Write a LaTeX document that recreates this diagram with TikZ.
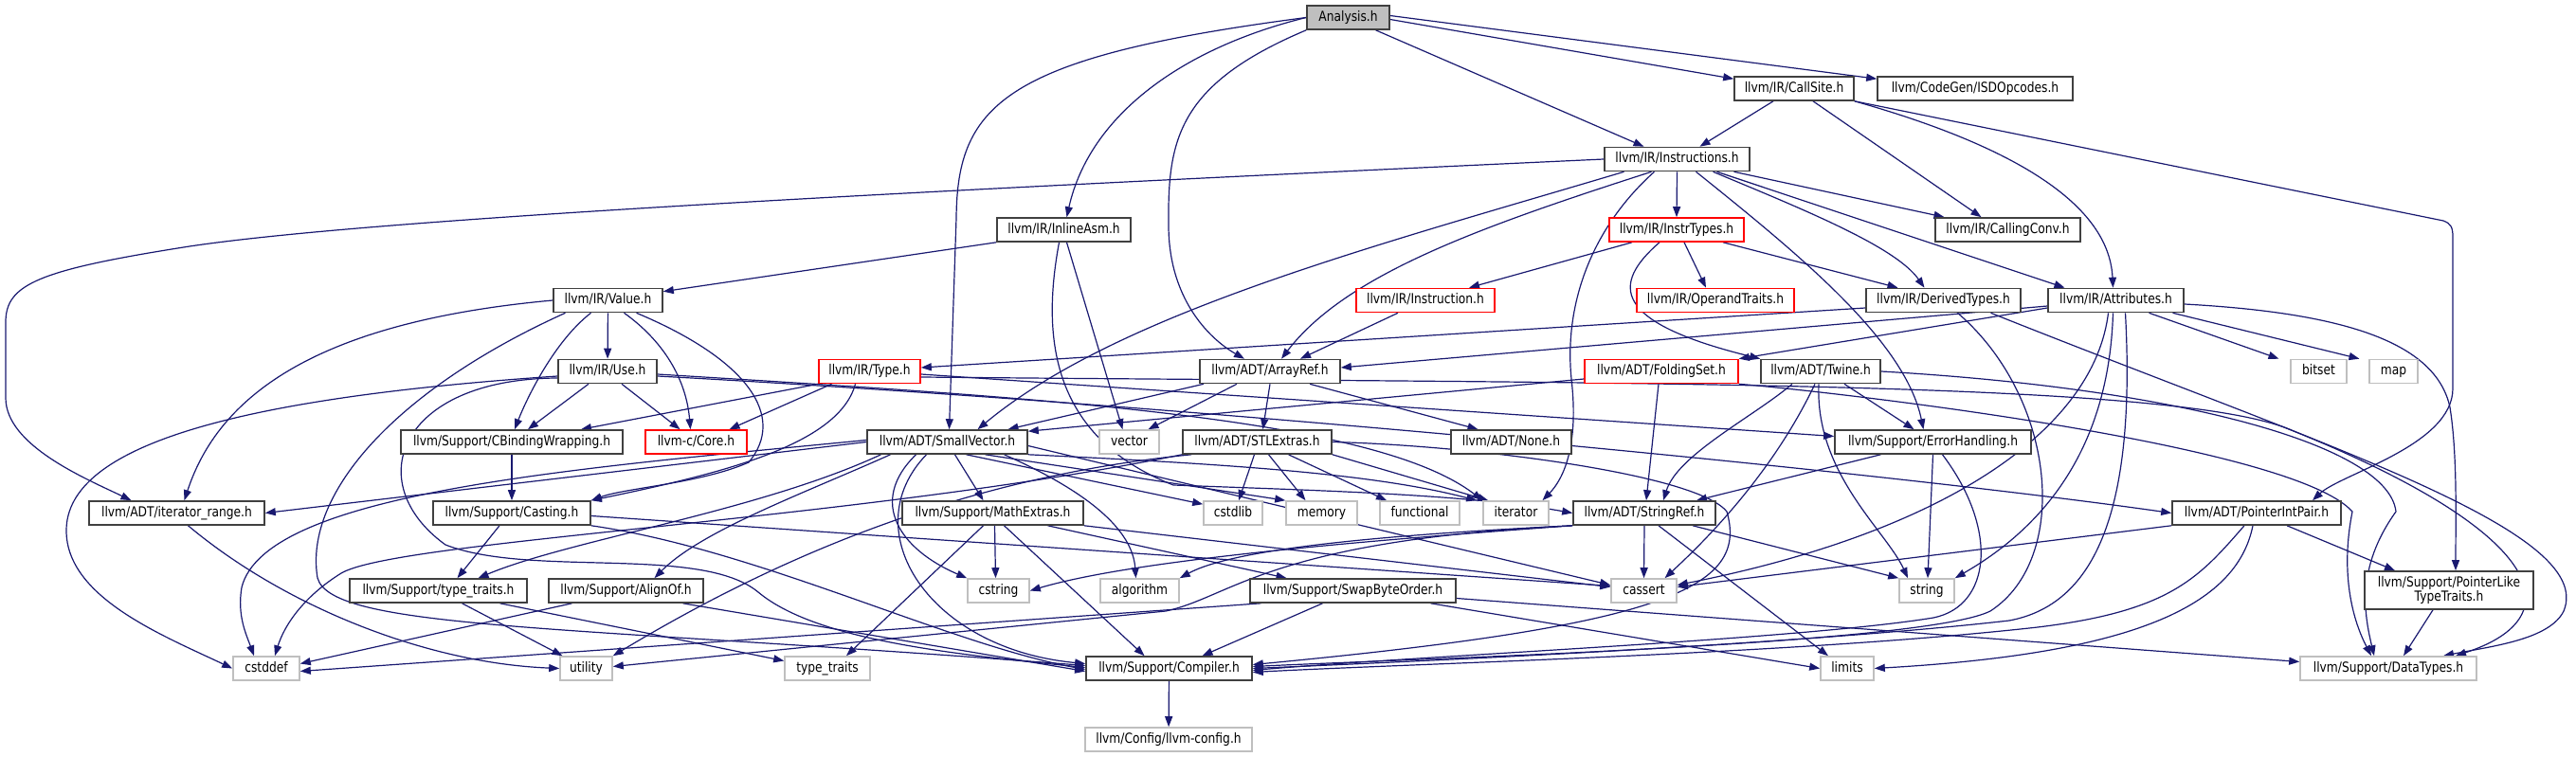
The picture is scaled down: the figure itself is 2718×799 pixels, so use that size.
\documentclass[tikz,border=0pt]{standalone}
\usepackage{fontspec}
\setmainfont{DejaVu Sans}[FakeStretch=0.84]
\usetikzlibrary{arrows.meta}
\definecolor{edgec}{HTML}{191970}
\definecolor{boxc}{HTML}{404040}
\definecolor{redc}{HTML}{FF0000}
\definecolor{greyc}{HTML}{BFBFBF}
\pgfdeclarelayer{edges}
\pgfsetlayers{edges,main}
\begin{document}
\begin{tikzpicture}[x=1pt,y=-1pt,
  font=\fontsize{14.6pt}{15pt}\selectfont,
  boxbase/.style={draw=boxc, line width=1.6pt, fill=white, inner sep=0pt, align=center},
  box/.style={boxbase, minimum height=25pt, text height=11pt, text depth=3.3pt},
  rbox/.style={box, draw=redc},
  gbox/.style={box, draw=greyc},
  e/.style={draw=edgec, line width=1.2pt, -{Triangle[length=11pt,width=8pt]}}]
\useasboundingbox (0,0) rectangle (2718,799);
% nodes
\node[box, fill=greyc, minimum width=87pt] (analysis) at (1422.5,18.5) {Analysis.h};
\node[box, minimum width=126pt] (callsite) at (1893,93.5) {llvm/IR/CallSite.h};
\node[box, minimum width=206pt] (isd) at (2084,93.5) {llvm/CodeGen/ISDOpcodes.h};
\node[box, minimum width=153pt] (instructions) at (1769.5,168) {llvm/IR/Instructions.h};
\node[box, minimum width=141pt] (inlineasm) at (1122.5,242.5) {llvm/IR/InlineAsm.h};
\node[rbox, minimum width=142pt] (instrtypes) at (1769,242.5) {llvm/IR/InstrTypes.h};
\node[box, minimum width=153pt] (callingconv) at (2118.5,242.5) {llvm/IR/CallingConv.h};
\node[box, minimum width=115pt] (value) at (641.5,317) {llvm/IR/Value.h};
\node[rbox, minimum width=146pt] (instruction) at (1504,317) {llvm/IR/Instruction.h};
\node[rbox, minimum width=166pt] (operandtraits) at (1810,317) {llvm/IR/OperandTraits.h};
\node[box, minimum width=163pt] (derivedtypes) at (2050.5,317) {llvm/IR/DerivedTypes.h};
\node[box, minimum width=143pt] (attributes) at (2232.5,317) {llvm/IR/Attributes.h};
\node[box, minimum width=104pt] (use) at (641,392) {llvm/IR/Use.h};
\node[rbox, minimum width=107pt] (type) at (917.5,392) {llvm/IR/Type.h};
\node[box, minimum width=148pt] (arrayref) at (1340,392) {llvm/ADT/ArrayRef.h};
\node[rbox, minimum width=162pt] (foldingset) at (1753,392) {llvm/ADT/FoldingSet.h};
\node[box, minimum width=126pt] (twine) at (1921,392) {llvm/ADT/Twine.h};
\node[gbox, minimum width=59pt] (bitset) at (2446.5,392) {bitset};
\node[gbox, minimum width=51pt] (map) at (2525.5,392) {map};
\node[box, minimum width=234pt] (cbinding) at (540,466.5) {llvm/Support/CBindingWrapping.h};
\node[rbox, minimum width=107pt] (core) at (734.5,466.5) {llvm-c/Core.h};
\node[box, minimum width=169pt] (smallvector) at (999.5,466.5) {llvm/ADT/SmallVector.h};
\node[gbox, minimum width=63pt] (vector) at (1191.5,466.5) {vector};
\node[box, minimum width=157pt] (stlextras) at (1326.5,466.5) {llvm/ADT/STLExtras.h};
\node[box, minimum width=127pt] (none) at (1594.5,466.5) {llvm/ADT/None.h};
\node[box, minimum width=207pt] (errorhandling) at (2039.5,466.5) {llvm/Support/ErrorHandling.h};
\node[box, minimum width=185pt] (iterrange) at (186.5,541.5) {llvm/ADT/iterator\_range.h};
\node[box, minimum width=166pt] (casting) at (540,541.5) {llvm/Support/Casting.h};
\node[box, minimum width=191pt] (mathextras) at (1047.5,541.5) {llvm/Support/MathExtras.h};
\node[gbox, minimum width=62pt] (cstdlib) at (1301,541.5) {cstdlib};
\node[gbox, minimum width=75pt] (memory) at (1394.5,541.5) {memory};
\node[gbox, minimum width=84pt] (functional) at (1498,541.5) {functional};
\node[gbox, minimum width=69pt] (iterator) at (1599.5,541.5) {iterator};
\node[box, minimum width=150pt] (stringref) at (1735,541.5) {llvm/ADT/StringRef.h};
\node[box, minimum width=178pt] (pointerintpair) at (2381,541.5) {llvm/ADT/PointerIntPair.h};
\node[box, minimum width=187pt] (typetraitsllvm) at (462.5,623.5) {llvm/Support/type\_traits.h};
\node[box, minimum width=163pt] (alignof) at (660.5,623.5) {llvm/Support/AlignOf.h};
\node[gbox, minimum width=65pt] (cstring) at (1053.5,623.5) {cstring};
\node[gbox, minimum width=83pt] (algorithm) at (1202.5,623.5) {algorithm};
\node[box, minimum width=217pt] (swapbyteorder) at (1427.5,623.5) {llvm/Support/SwapByteOrder.h};
\node[gbox, minimum width=69pt] (cassert) at (1734.5,623.5) {cassert};
\node[gbox, minimum width=58pt] (string) at (2033,623.5) {string};
\node[boxbase, minimum width=178pt, minimum height=40pt] (pointerlike) at (2584,623) {llvm/Support/PointerLike\\TypeTraits.h};
\node[gbox, minimum width=70pt] (cstddef) at (281,705.5) {cstddef};
\node[gbox, minimum width=55pt] (utility) at (618.5,705.5) {utility};
\node[gbox, minimum width=90pt] (typetraits) at (873,705.5) {type\_traits};
\node[box, minimum width=175pt] (compiler) at (1233.5,705.5) {llvm/Support/Compiler.h};
\node[gbox, minimum width=56pt] (limits) at (1949,705.5) {limits};
\node[gbox, minimum width=186pt] (datatypes) at (2520,705.5) {llvm/Support/DataTypes.h};
\node[gbox, minimum width=176pt] (llvmconfig) at (1233,780.5) {llvm/Config/llvm-config.h};

\begin{pgfonlayer}{edges}
% Analysis.h
\draw[e] (analysis.west) .. controls (1060,60) and (1010,110) .. (1009,230) -- ([xshift=2pt]smallvector.north);
\draw[e] (analysis.west) .. controls (1250,50) and (1150,120) .. ([xshift=3pt]inlineasm.north);
\draw[e] (analysis.south west) .. controls (1240,90) and (1232,150) .. (1233,240) .. controls (1234,320) and (1280,360) .. ([xshift=-27pt]arrayref.north);
\draw[e] ([xshift=29pt]analysis.south) -- ([xshift=-35pt]instructions.north);
\draw[e] ([yshift=-2pt]analysis.east) -- ([yshift=-3pt]callsite.north west);
\draw[e] ([yshift=2pt]analysis.east) -- ([yshift=-3pt]isd.north west);
% CallSite.h
\draw[e] ([xshift=-22pt]callsite.south) -- ([xshift=24pt]instructions.north);
\draw[e] ([xshift=20pt]callsite.south) -- ([xshift=-28pt]callingconv.north);
\draw[e] (callsite.south east) .. controls (2110,150) and (2225,210) .. ([xshift=-3pt]attributes.north);
\draw[e] (callsite.south east) -- (2578,233) .. controls (2586,236) and (2588,240) .. (2588,250) -- (2588,410) .. controls (2588,470) and (2470,500) .. ([xshift=59pt]pointerintpair.north);
% Instructions.h
\draw[e] (instructions.west) .. controls (1000,200) and (400,230) .. (200,260) .. controls (40,285) and (6,300) .. (6,340) -- (6,420) .. controls (6,470) and (90,505) .. ([xshift=-48pt]iterrange.north);
\draw[e] ([xshift=-56pt]instructions.south) .. controls (1450,260) and (1180,330) .. ([xshift=32pt]smallvector.north);
\draw[e] ([xshift=-27pt]instructions.south) .. controls (1560,240) and (1420,290) .. ([xshift=12pt]arrayref.north);
\draw[e] ([xshift=-24pt]instructions.south) .. controls (1680,240) and (1650,320) .. (1658,400) .. controls (1666,470) and (1650,505) .. ([xshift=28pt]iterator.north);
\draw[e] (instructions.south) -- (instrtypes.north);
\draw[e] ([xshift=20pt]instructions.south) .. controls (1900,270) and (2010,360) .. ([xshift=-10pt]errorhandling.north);
\draw[e] ([xshift=38pt]instructions.south) .. controls (1900,220) and (2000,260) .. ([xshift=-20pt]derivedtypes.north);
\draw[e] ([xshift=42pt]instructions.south) -- ([xshift=-54pt]attributes.north);
\draw[e] ([xshift=60pt]instructions.south) -- ([xshift=-67pt]callingconv.north);
% InlineAsm.h
\draw[e] (inlineasm.south west) -- ([yshift=-4pt]value.north east);
\draw[e] ([xshift=3pt]inlineasm.south) -- ([xshift=-7pt]vector.north);
\draw[e] ([xshift=-5pt]inlineasm.south) .. controls (1100,350) and (1105,460) .. (1238,512) .. controls (1400,518) and (1550,522) .. (stringref.west);
% InstrTypes.h
\draw[e] ([xshift=-47pt]instrtypes.south) -- ([xshift=46pt]instruction.north);
\draw[e] ([xshift=8pt]instrtypes.south) -- ([xshift=-10pt]operandtraits.north);
\draw[e] ([xshift=49pt]instrtypes.south) -- ([xshift=-48pt]derivedtypes.north);
\draw[e] ([xshift=-18pt]instrtypes.south) .. controls (1700,300) and (1700,340) .. (twine.north west);
% Instruction.h
\draw[e] ([xshift=-29pt]instruction.south) -- ([xshift=32pt]arrayref.north);
% DerivedTypes.h
\draw[e] ([yshift=-8pt]derivedtypes.west) -- ([yshift=4pt]type.east);
\draw[e] ([xshift=15pt]derivedtypes.south) .. controls (2170,420) and (2185,590) .. (2100,645) .. controls (2030,680) and (1500,695) .. ([yshift=2pt]compiler.east);
\draw[e] ([xshift=50pt]derivedtypes.south) .. controls (2450,470) and (2740,560) .. (2705,645) .. controls (2690,675) and (2630,682) .. ([xshift=58pt]datatypes.north);
% Attributes.h
\draw[e] ([yshift=-6pt]attributes.west) -- ([yshift=4pt]arrayref.east);
\draw[e] ([yshift=-8pt]attributes.west) -- (foldingset.north east);
\draw[e] ([xshift=35pt]attributes.south) -- ([xshift=-42pt]bitset.north);
\draw[e] ([xshift=60pt]attributes.south) -- ([xshift=-36pt]map.north);
\draw[e] ([yshift=-4pt]attributes.east) .. controls (2470,330) and (2570,360) .. (2585,430) .. controls (2593,480) and (2591,550) .. ([xshift=7pt]pointerlike.north);
\draw[e] ([xshift=-8pt]attributes.south) .. controls (2210,450) and (2060,560) .. ([yshift=6pt]cassert.east);
\draw[e] ([xshift=-3pt]attributes.south) .. controls (2225,480) and (2150,560) .. (string.north east);
\draw[e] ([xshift=10pt]attributes.south) .. controls (2255,560) and (2200,640) .. (2120,655) .. controls (1900,680) and (1500,698) .. (compiler.east);
% Value.h
\draw[e] (value.west) .. controls (330,340) and (230,420) .. ([xshift=8pt]iterrange.north);
\draw[e] ([xshift=-45pt]value.south) .. controls (420,410) and (320,520) .. (335,610) .. controls (350,665) and (600,660) .. ([yshift=3pt]compiler.west);
\draw[e] ([xshift=-18pt]value.south) .. controls (585,360) and (556,420) .. ([xshift=3pt]cbinding.north);
\draw[e] (value) -- (use);
\draw[e] ([xshift=17pt]value.south) .. controls (700,360) and (724,400) .. ([xshift=-6pt]core.north);
\draw[e] ([xshift=30pt]value.south) .. controls (790,380) and (830,440) .. (790,488) .. controls (740,510) and (660,515) .. (casting.north east);
% Use.h
\draw[e] ([xshift=-20pt]use.south) -- ([xshift=17pt]cbinding.north);
\draw[e] ([xshift=15pt]use.south) -- ([xshift=-17pt]core.north);
\draw[e] ([yshift=-5pt]use.west) .. controls (250,420) and (70,470) .. (70,560) .. controls (70,630) and (170,670) .. (cstddef.west);
\draw[e] ([yshift=-7pt]use.west) .. controls (420,400) and (380,510) .. (470,575) .. controls (560,610) and (740,575) .. (800,625) .. controls (860,675) and (1000,690) .. ([yshift=1pt]compiler.west);
\draw[e] ([yshift=-3pt]use.east) .. controls (1100,420) and (1450,440) .. (iterator.north west);
\draw[e] ([yshift=-5pt]use.east) .. controls (1300,430) and (2000,500) .. (pointerintpair.west);
% Type.h
\draw[e] ([xshift=-40pt]type.south) -- ([xshift=35pt]core.north);
\draw[e] (type.south west) -- ([xshift=73pt]cbinding.north);
\draw[e] ([xshift=-15pt]type.south) .. controls (885,470) and (760,500) .. (casting.north east);
\draw[e] ([yshift=-3pt]type.east) -- ([yshift=6pt]errorhandling.west);
\draw[e] ([yshift=-6pt]type.east) .. controls (1700,405) and (2300,400) .. (2420,455) .. controls (2680,560) and (2720,650) .. ([xshift=71pt]datatypes.north);
% ArrayRef.h
\draw[e] ([xshift=-70pt]arrayref.south) -- ([xshift=64pt]smallvector.north);
\draw[e] ([xshift=-35pt]arrayref.south) -- ([xshift=20pt]vector.north);
\draw[e] (arrayref.south) -- ([xshift=6pt]stlextras.north);
\draw[e] ([xshift=42pt]arrayref.south) -- ([xshift=-35pt]none.north);
% FoldingSet.h
\draw[e] ([yshift=-8pt]foldingset.west) -- ([yshift=-2pt]smallvector.north east);
\draw[e] ([xshift=-3pt]foldingset.south) -- ([xshift=2pt]stringref.north);
\draw[e] (foldingset.south east) .. controls (1950,415) and (2420,470) .. (2482,540) .. controls (2470,600) and (2480,650) .. ([xshift=-18pt]datatypes.north);
% Twine.h
\draw[e] ([xshift=-30pt]twine.south) .. controls (1850,440) and (1770,480) .. ([xshift=20pt]stringref.north);
\draw[e] ([xshift=-6pt]twine.south) .. controls (1870,500) and (1800,570) .. ([xshift=22pt]cassert.north);
\draw[e] ([xshift=-2pt]twine.south) .. controls (1915,500) and (1990,560) .. ([xshift=-20pt]string.north);
\draw[e] ([xshift=25pt]twine.south) -- ([xshift=-20pt]errorhandling.north);
\draw[e] (twine.east) .. controls (2300,410) and (2520,470) .. (2528,540) .. controls (2485,600) and (2495,650) .. ([xshift=-15pt]datatypes.north);
% STLExtras.h
\draw[e] ([xshift=-3pt]stlextras.south) -- ([xshift=6pt]cstdlib.north);
\draw[e] ([xshift=12pt]stlextras.south) -- ([xshift=-17pt]memory.north);
\draw[e] ([xshift=33pt]stlextras.south) -- ([xshift=-35pt]functional.north);
\draw[e] (stlextras.south east) -- ([xshift=6pt]iterator.north west);
\draw[e] (stlextras.south west) .. controls (900,550) and (420,570) .. (360,605) .. controls (320,630) and (300,660) .. ([xshift=9pt]cstddef.north);
\draw[e] ([xshift=10pt]stlextras.south west) .. controls (1000,505) and (800,600) .. (utility.north east);
\draw[e] (stlextras.east) .. controls (1550,470) and (1790,500) .. (1822,540) .. controls (1845,620) and (1760,660) .. ([yshift=4pt]compiler.east);
% SmallVector.h
\draw[e] (smallvector.west) -- (iterrange.east);
\draw[e] ([xshift=-60pt]smallvector.south) .. controls (850,520) and (740,560) .. ([xshift=30pt]alignof.north);
\draw[e] ([xshift=-22pt]smallvector.south) .. controls (900,560) and (980,685) .. ([yshift=5pt]compiler.west);
\draw[e] ([xshift=8pt]smallvector.south) -- ([xshift=-10pt]mathextras.north);
\draw[e] ([xshift=-70pt]smallvector.south) .. controls (800,540) and (600,570) .. ([xshift=42pt]typetraitsllvm.north);
\draw[e] ([xshift=60pt]smallvector.south) .. controls (1150,520) and (1195,560) .. ([xshift=-4pt]algorithm.north);
\draw[e] ([yshift=-4pt]smallvector.east) -- ([yshift=6pt]cassert.west);
\draw[e] ([yshift=2pt]smallvector.west) .. controls (600,495) and (280,520) .. (255,620) .. controls (250,650) and (260,670) .. ([xshift=-13pt]cstddef.north);
\draw[e] ([xshift=20pt]smallvector.south) -- ([yshift=-4pt]cstdlib.north west);
\draw[e] ([xshift=-33pt]smallvector.south) .. controls (915,530) and (950,580) .. (cstring.north west);
\draw[e] (smallvector.south east) .. controls (1300,490) and (1450,500) .. ([xshift=-6pt]iterator.north west);
\draw[e] ([xshift=40pt]smallvector.south) -- (memory.north west);
% MathExtras.h
\draw[e] ([xshift=2pt]mathextras.south) -- ([xshift=-3pt]cstring.north);
\draw[e] ([xshift=-10pt]mathextras.south) -- ([xshift=20pt]typetraits.north);
\draw[e] ([xshift=12pt]mathextras.south) -- ([xshift=-26pt]compiler.north);
\draw[e] ([xshift=58pt]mathextras.south) -- ([xshift=-70pt]swapbyteorder.north);
\draw[e] (mathextras.south east) -- ([yshift=4pt]cassert.west);
% SwapByteOrder.h
\draw[e] ([xshift=-32pt]swapbyteorder.south) -- ([xshift=35pt]compiler.north);
\draw[e] ([xshift=-97pt]swapbyteorder.south) -- ([yshift=-3pt]cstddef.east);
\draw[e] ([xshift=82pt]swapbyteorder.south) -- (limits.west);
\draw[e] ([yshift=-8pt]swapbyteorder.east) -- ([yshift=7pt]datatypes.west);
% Casting.h
\draw[e] ([xshift=-13pt]casting.south) -- ([xshift=20pt]typetraitsllvm.north);
\draw[e] (casting.south east) .. controls (800,580) and (1000,680) .. ([yshift=-1pt]compiler.west);
\draw[e] ([yshift=-3pt]casting.east) -- ([yshift=5pt]cassert.west);
% CBindingWrapping.h
\draw[e] (cbinding) -- (casting);
% iterator_range.h
\draw[e] ([xshift=12pt]iterrange.south) .. controls (300,640) and (450,700) .. (utility.west);
% type_traits.h
\draw[e] ([xshift=25pt]typetraitsllvm.south) -- ([xshift=-25pt]utility.north);
\draw[e] ([xshift=65pt]typetraitsllvm.south) -- ([yshift=8pt]typetraits.west);
% AlignOf.h
\draw[e] ([xshift=-57pt]alignof.south) -- ([yshift=5pt]cstddef.east);
\draw[e] ([xshift=60pt]alignof.south) -- ([yshift=-3pt]compiler.west);
% StringRef.h
\draw[e] (stringref.south) -- (cassert.north);
\draw[e] ([xshift=15pt]stringref.south) -- ([xshift=-20pt]limits.north);
\draw[e] ([xshift=51pt]stringref.south) -- (string.north west);
\draw[e] (stringref.south west) .. controls (1450,570) and (1200,590) .. (cstring.east);
\draw[e] (stringref.south west) .. controls (1450,565) and (1300,580) .. (algorithm.north east);
\draw[e] (stringref.south west) .. controls (1340,570) and (1300,630) .. (1230,645) -- ([yshift=2pt]utility.east);
% ErrorHandling.h
\draw[e] ([xshift=-55pt]errorhandling.south) -- ([xshift=55pt]stringref.north);
\draw[e] (errorhandling.south) -- ([xshift=1pt]string.north);
\draw[e] ([xshift=10pt]errorhandling.south) .. controls (2110,560) and (2100,640) .. (2040,652) .. controls (1900,675) and (1500,692) .. ([yshift=-2pt]compiler.east);
% PointerIntPair.h
\draw[e] ([xshift=32pt]pointerintpair.south) -- ([xshift=-57pt]pointerlike.north);
\draw[e] (pointerintpair.south west) -- ([yshift=4pt]cassert.east);
\draw[e] ([xshift=-13pt]pointerintpair.south) .. controls (2320,610) and (2290,645) .. (2150,662) .. controls (1900,690) and (1500,700) .. ([yshift=-4pt]compiler.east);
\draw[e] ([xshift=-4pt]pointerintpair.south) .. controls (2360,640) and (2250,690) .. (limits.east);
% PointerLikeTypeTraits.h
\draw[e] ([xshift=-17pt]pointerlike.south) -- ([xshift=16pt]datatypes.north);
% Compiler.h
\draw[e] (compiler) -- (llvmconfig);
\end{pgfonlayer}
\end{tikzpicture}
\end{document}
